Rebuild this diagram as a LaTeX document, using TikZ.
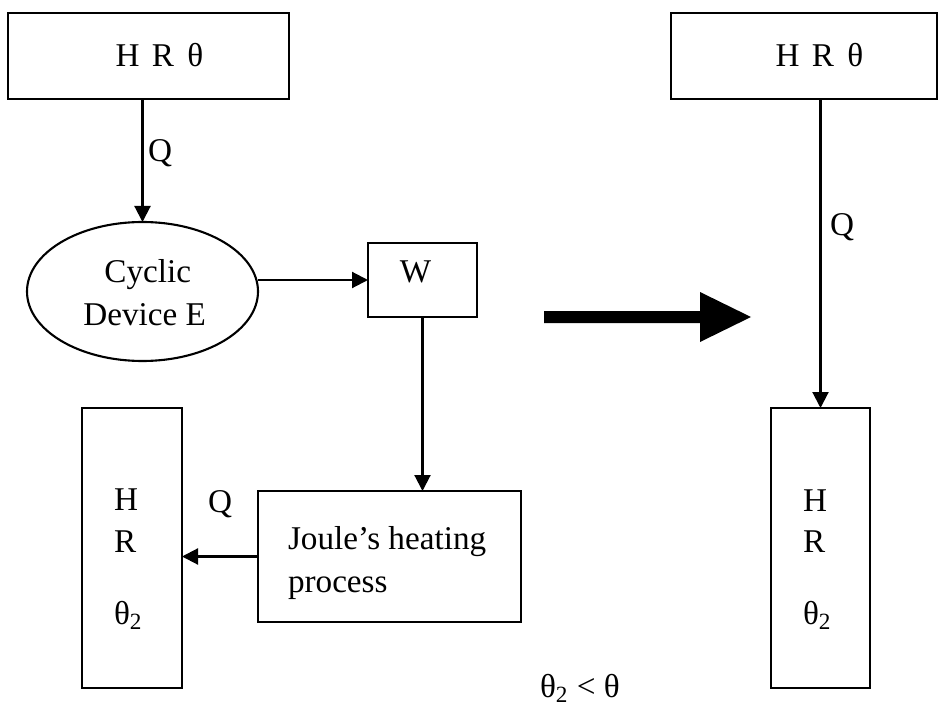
\documentclass[tikz,border=0pt]{standalone}
\usepackage{fontspec}
\setmainfont{Liberation Serif}
\usetikzlibrary{arrows.meta,shapes.geometric}
\begin{document}
\begin{tikzpicture}[x=0.5pt,y=-0.5pt,
  every node/.style={font=\fontsize{16.6}{20}\selectfont},
  box/.style={draw,line width=1.05pt,inner sep=0pt,outer sep=0pt,rectangle},
  conn/.style={line width=1.05pt,-{Triangle[length=8pt,width=8pt]}},
  txt/.style={inner sep=0pt,outer sep=0pt}
]
\useasboundingbox (0,0) rectangle (938,706);
% boxes
\node[box,minimum width=140.5pt,minimum height=43pt] (hr1) at (148.5,56) {};
\node[box,minimum width=133pt,minimum height=43pt] (hr1r) at (804,56) {};
\node[draw,ellipse,line width=1.05pt,inner sep=0pt,outer sep=0pt,minimum width=115.5pt,minimum height=69.5pt] (ce) at (142.5,291.5) {};
\node[box,minimum width=54.5pt,minimum height=37pt] (w) at (422.5,280) {};
\node[box,minimum width=131.5pt,minimum height=65.5pt] (jb) at (389.5,556.5) {};
\node[box,minimum width=50pt,minimum height=140pt] (hl) at (132,548) {};
\node[box,minimum width=49.5pt,minimum height=140pt] (hrr) at (820.5,548) {};
% texts
\node[txt,anchor=base] (t1) at (159.5,67) {H\hspace{2pt} R\hspace{2.5pt} θ};
\node[txt,anchor=base] (t2) at (819.5,67) {H\hspace{2pt} R\hspace{2.5pt} θ};
\node[txt,anchor=base] (tc1) at (147.8,282) {Cyclic};
\node[txt,anchor=base] (tc2) at (144.7,325) {Device E};
\node[txt,anchor=base] (tw) at (415.5,283) {W};
\node[txt,anchor=base west] (tj1) at (288,549) {Joule’s heating};
\node[txt,anchor=base west] (tj2) at (288,592) {process};
\node[txt,anchor=base west] (lh) at (114,510) {H};
\node[txt,anchor=base west] (lr) at (114,552) {R};
\node[txt,anchor=base west] (lt) at (114,624) {θ\textsubscript{2}};
\node[txt,anchor=base west] (rh) at (803,511) {H};
\node[txt,anchor=base west] (rr) at (803,552) {R};
\node[txt,anchor=base west] (rt) at (803,624) {θ\textsubscript{2}};
\node[txt,anchor=base west] (q1) at (148,162) {Q};
\node[txt,anchor=base west] (q2) at (208,512) {Q};
\node[txt,anchor=base west] (q3) at (830,235) {Q};
\node[txt,anchor=base west] (cmp) at (540,697) {θ\textsubscript{2} < θ};
% connectors
\draw[conn] (hr1.south -| ce.north) -- (ce.north);
\draw[conn] (ce.east |- w.west) -- (w.west);
\draw[conn] (w.south) -- (w.south |- jb.north);
\draw[conn] (jb.west) -- (jb.west -| hl.east);
\draw[conn] (hr1r.south -| hrr.north) -- (hrr.north);
% big arrow
\fill (544,311) -- (700,311) -- (700,292) -- (751,317) -- (700,342) -- (700,323) -- (544,323) -- cycle;
\end{tikzpicture}
\end{document}
